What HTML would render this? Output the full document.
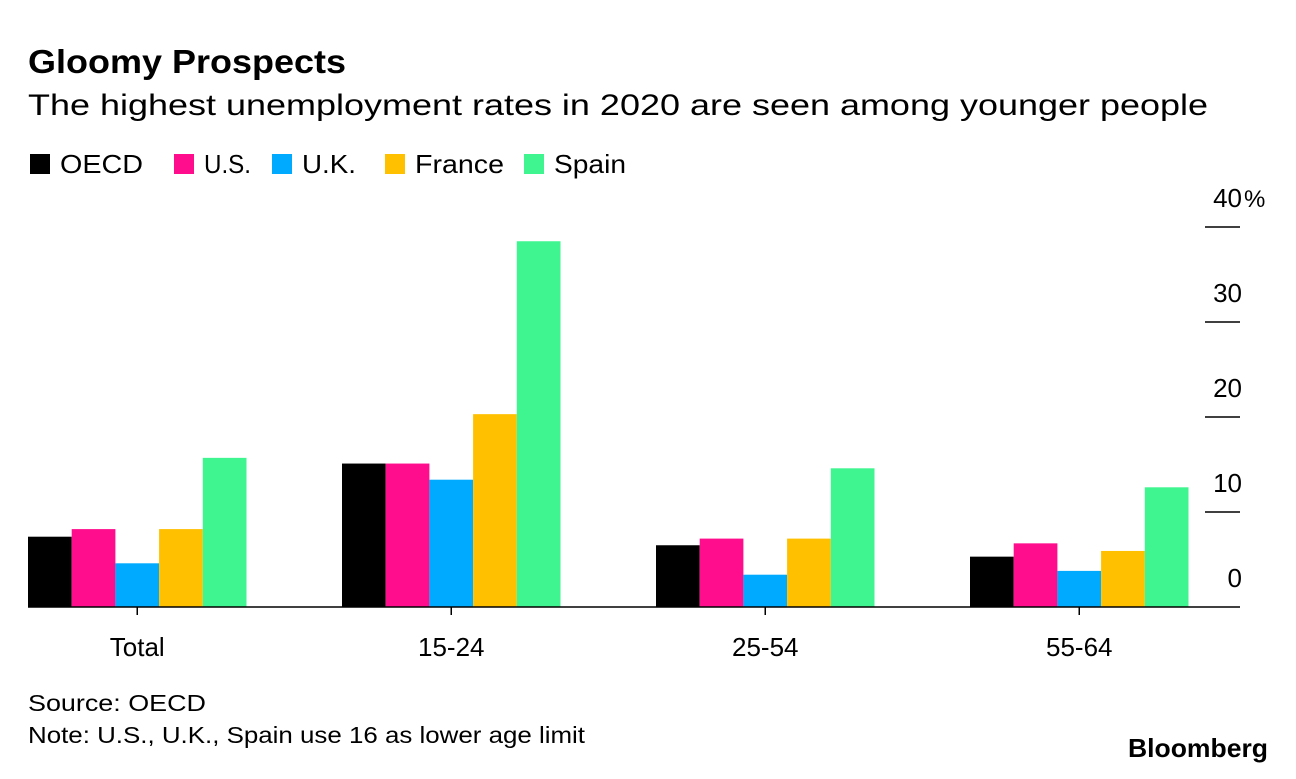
<!DOCTYPE html>
<html><head><meta charset="utf-8"><style>
body{margin:0;background:#fff;font-family:"Liberation Sans",sans-serif;}
svg text{font-family:"Liberation Sans",sans-serif;}
</style></head><body>
<svg width="1296" height="774">
<text x="28" y="73" font-size="33" font-weight="bold" fill="#000" textLength="318" lengthAdjust="spacingAndGlyphs">Gloomy Prospects</text>
<text x="28" y="115" font-size="30" fill="#000" textLength="1180" lengthAdjust="spacingAndGlyphs">The highest unemployment rates in 2020 are seen among younger people</text>
<g id="legend"></g>
<g id="grid"></g>
<g id="bars"></g>
<g id="xaxis"></g>
<text x="28" y="711" font-size="23" fill="#000" textLength="178" lengthAdjust="spacingAndGlyphs">Source: OECD</text>
<text x="28" y="743" font-size="23" fill="#000" textLength="557" lengthAdjust="spacingAndGlyphs">Note: U.S., U.K., Spain use 16 as lower age limit</text>
<text x="1128" y="757" font-size="26" font-weight="bold" fill="#000" textLength="140" lengthAdjust="spacingAndGlyphs">Bloomberg</text>
</svg>
<script>
const categories=["Total","15-24","25-54","55-64"];
const seriesNames=["OECD","U.S.","U.K.","France","Spain"];
const oecd=[7.4,15.1,6.5,5.3];
const us=[8.2,15.1,7.2,6.7];
const uk=[4.6,13.4,3.4,3.8];
const france=[8.2,20.3,7.2,5.9];
const spain=[15.7,38.5,14.6,12.6];
const yTicks=[0,10,20,30,40];
const yTickLabels=["0","10","20","30","40"];
const colors=["#000000","#ff0d8c","#00aaff","#ffc000","#3ef590"];
const series=[oecd,us,uk,france,spain];
const NS="http://www.w3.org/2000/svg";
function mk(t,a,p){const e=document.createElementNS(NS,t);for(const k in a)e.setAttribute(k,a[k]);p.appendChild(e);return e;}
const y0=607,pxPer=9.5;
function y(v){return y0-v*pxPer;}
const groupStart=28,groupStep=314,barW=43.7;
function x(ci,si){return groupStart+ci*groupStep+si*barW;}
const bars=document.getElementById('bars'),grid=document.getElementById('grid'),xa=document.getElementById('xaxis'),lg=document.getElementById('legend');
yTicks.forEach((t,i)=>{
 if(t>0){const l=mk('line',{x1:1205,x2:1240,y1:y(t),y2:y(t),stroke:'#000','stroke-width':1.5},grid);
 
 }
 const tx=mk('text',{x:1242,y:y(t)-20,'font-size':26,'text-anchor':'end',fill:'#000'},grid);
 tx.textContent=yTickLabels[i];
 
 
 if(i===yTicks.length-1){const p=mk('text',{x:1244,y:y(t)-20,'font-size':24,fill:'#000'},grid);
 p.textContent='%';
 
 }
});
series.forEach((s,si)=>{s.forEach((v,ci)=>{
 const r=mk('rect',{x:x(ci,si),y:y(v),width:barW,height:v*pxPer,fill:colors[si]},bars);
 
 
});});
const base=mk('line',{x1:28,x2:1240,y1:y0,y2:y0,stroke:'#000','stroke-width':1.5},xa);


categories.forEach((c,ci)=>{
 const cx=groupStart+ci*groupStep+barW*2.5;
 const tk=mk('line',{x1:cx,x2:cx,y1:y0,y2:y0+8,stroke:'#000','stroke-width':1.5},xa);
 
 
 const t=mk('text',{x:cx,y:656,'font-size':26,'text-anchor':'middle',fill:'#000'},xa);
 t.textContent=c;
 
 
});
const lx=[30,174,272,385,524];
const lw=[83,47,54,89,72];
seriesNames.forEach((n,i)=>{
 const g=mk('g',{},lg);
 
 
 mk('rect',{x:lx[i],y:154,width:20,height:20,fill:colors[i]},g);
 const t=mk('text',{x:lx[i]+30,y:173,'font-size':26,fill:'#000',textLength:lw[i],lengthAdjust:'spacingAndGlyphs'},g);
 t.textContent=n;
});
</script>
</body></html>
